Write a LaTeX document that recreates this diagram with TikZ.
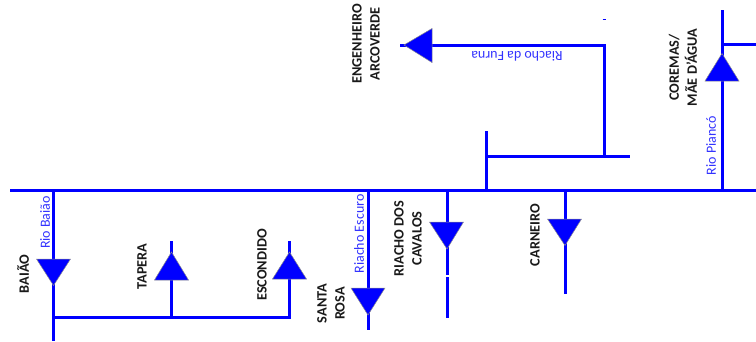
\documentclass[tikz,border=0pt]{standalone}
\usepackage{fontspec}
\setmainfont{Carlito}
\definecolor{riv}{RGB}{0,0,255}
\tikzset{
  river/.style={draw=riv,line width=3pt},
  gauge/.style={fill=riv,draw=black!45,line width=.5pt,line join=miter},
  place/.style={rotate=90,inner sep=0pt,align=center,font=\fontsize{14.3}{18}\selectfont\bfseries,text=black!90},
  rivername/.style={rotate=90,inner sep=0pt,font=\fontsize{14}{15}\selectfont,text=riv!80!white},
}
\begin{document}
\begin{tikzpicture}[x=1pt,y=-1pt]
\useasboundingbox (0,0) rectangle (756,341);
% main river and junctions
\coordinate (mainW) at (10,190);
\coordinate (mainE) at (756,190);
\coordinate (baiaoT) at (53,190);
\coordinate (baiaoB) at (53,341);
\coordinate (baiaoJ) at (53,317);
\coordinate (taperaJ) at (171.5,317);
\coordinate (taperaT) at (171.5,241);
\coordinate (escJ) at (289.5,317);
\coordinate (escT) at (289.5,241);
\coordinate (srT) at (368,190);
\coordinate (srB) at (368,330);
\coordinate (rcT) at (447,190);
\coordinate (rcM) at (447,275);
\coordinate (rcN) at (447,277);
\coordinate (rcB) at (447,318);
\coordinate (caT) at (565,190);
\coordinate (caB) at (565,293.5);
\coordinate (fuB) at (486,190);
\coordinate (fuT) at (486,131);
\coordinate (fuJ) at (486,156);
\coordinate (fuE) at (630,156);
\coordinate (fuK) at (604,156);
\coordinate (fuC) at (604,45);
\coordinate (fuW) at (400,45);
\coordinate (piB) at (722,190);
\coordinate (piT) at (722,10);
\coordinate (piJ) at (722,44);
\coordinate (piE) at (756,44);
\coordinate (tickA) at (602.5,19);
\coordinate (tickB) at (605.5,19);
\draw[river] (mainW) -- (mainE);
\draw[river] (baiaoT) -- (baiaoB);
\draw[river] (baiaoJ) -- (escJ) -- (escT);
\draw[river] (taperaJ) -- (taperaT);
\draw[river] (srT) -- (srB);
\draw[river] (rcT) -- (rcM);
\draw[river] (rcN) -- (rcB);
\draw[river] (caT) -- (caB);
\draw[river] (fuB) -- (fuT);
\draw[river] (fuJ) -- (fuE);
\draw[river] (fuK) -- (fuC) -- (fuW);
\draw[river] (piB) -- (piT);
\draw[river] (piJ) -- (piE);
\draw[draw=riv,line width=1pt] (tickA) -- (tickB);
% reservoirs
\path[gauge] (36.5,259) -- (70.5,259) -- (53.5,285.5) -- cycle;
\path[gauge] (154.5,280) -- (188.5,280) -- (171.5,252) -- cycle;
\path[gauge] (272.5,279) -- (306.5,279) -- (289.5,252) -- cycle;
\path[gauge] (351,288) -- (385,288) -- (368,315) -- cycle;
\path[gauge] (429.5,222) -- (463.5,222) -- (447,249) -- cycle;
\path[gauge] (547.5,219) -- (581.5,219) -- (565,245.5) -- cycle;
\path[gauge] (432,28.5) -- (432,62.5) -- (404,45) -- cycle;
\path[gauge] (705,81) -- (739,81) -- (722,53.5) -- cycle;
% reservoir names
\node[place] (n1) at (366,44) {ENGENHEIRO\\ARCOVERDE};
\node[place] (n2) at (683,67.5) {COREMAS/\\MÃE D'ÁGUA};
\node[place] (n3) at (23,274) {BAIÃO};
\node[place] (n4) at (142,266.5) {TAPERA};
\node[place] (n5) at (262,265) {ESCONDIDO};
\node[place] (n6) at (331,303.5) {SANTA\\ROSA};
\node[place] (n7) at (408,238.5) {RIACHO DOS\\CAVALOS};
\node[place] (n8) at (535,235) {CARNEIRO};
% river names
\node[rivername] (r1) at (45,222.5) {Rio Baião};
\node[rivername] (r2) at (359,234) {Riacho Escuro};
\node[rivername] (r3) at (711,145.5) {Rio Piancó};
\node[rivername,rotate=90] (r4) at (517,56) {Riacho da Furna};
\end{tikzpicture}
\end{document}
